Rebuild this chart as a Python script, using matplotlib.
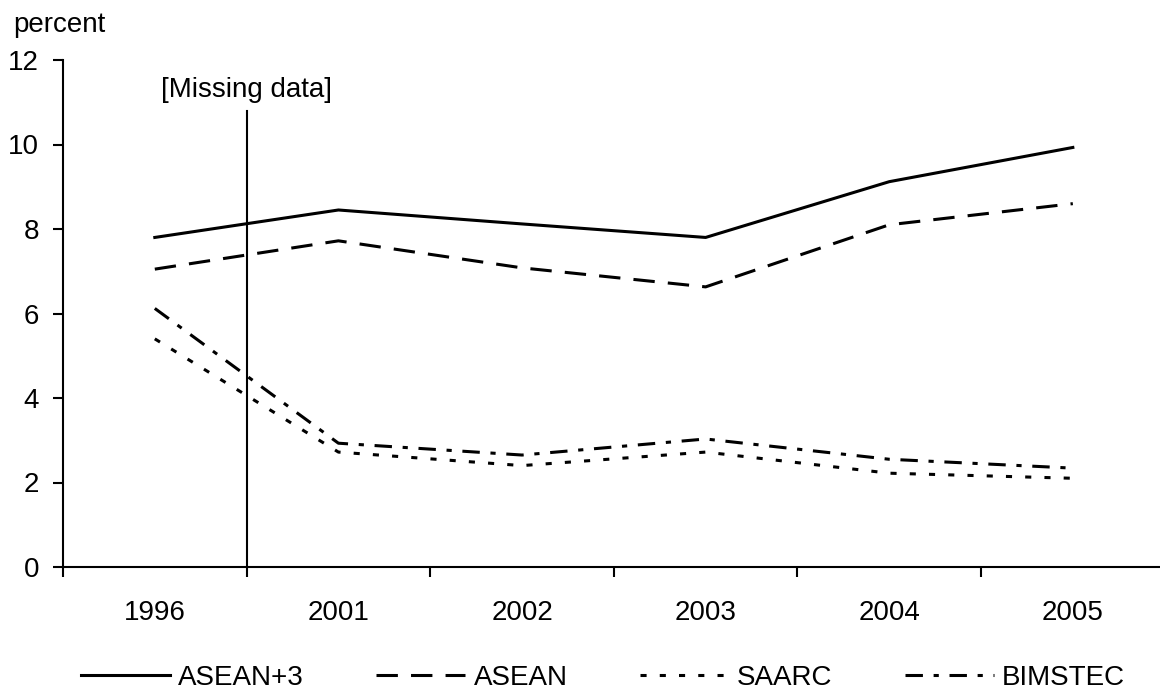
import matplotlib
matplotlib.use("Agg")
import matplotlib.pyplot as plt
from matplotlib.ticker import FixedLocator

years = ["1996", "2001", "2002", "2003", "2004", "2005"]
asean3 = [7.80, 8.45, 8.12, 7.80, 9.12, 9.93]
asean = [7.05, 7.72, 7.08, 6.63, 8.10, 8.60]
saarc = [5.40, 2.72, 2.40, 2.72, 2.22, 2.10]
bimstec = [6.12, 2.93, 2.65, 3.03, 2.55, 2.34]

plt.rcParams['font.family'] = ['Liberation Sans', 'DejaVu Sans']
fs = 20
fig = plt.figure(figsize=(11.6, 6.93), dpi=100)
ax = fig.add_axes([63/1160, 1-567/693, 1-63/1160 + 0.004, (567-60)/693])

x = list(range(len(years)))
lw = 2.2
ax.plot(x, asean3, color='black', lw=lw, linestyle='-', label='ASEAN+3')
ax.plot(x, asean, color='black', lw=lw, linestyle=(0, (7, 4.3)), label='ASEAN')
ax.plot(x, saarc, color='black', lw=lw, linestyle=(0, (2, 4.3)), label='SAARC')
ax.plot(x, bimstec, color='black', lw=lw, linestyle=(0, (5.7, 3.5, 1.7, 3.5)), label='BIMSTEC')

ax.plot([0.5, 0.5], [0, 10.8], color='black', lw=1.5)
ax.text(0.5, 11.3, '[Missing data]', ha='center', va='center', fontsize=fs)

ax.set_xlim(-0.5, 5.5)
ax.set_ylim(0, 12)
ax.set_yticks([0, 2, 4, 6, 8, 10, 12])
ax.set_xticks(x)
ax.set_xticklabels(years)
ax.xaxis.set_minor_locator(FixedLocator([-0.5, 0.5, 1.5, 2.5, 3.5, 4.5]))
ax.tick_params(axis='x', which='major', length=0, pad=24, labelsize=fs)
ax.tick_params(axis='x', which='minor', length=7.2, direction='out', width=1.5)
ax.tick_params(axis='y', length=7.2, width=1.5, direction='out', labelsize=fs, pad=10)
for s in ['top', 'right']:
    ax.spines[s].set_visible(False)
for s in ['left', 'bottom']:
    ax.spines[s].set_linewidth(1.5)

fig.text(13/1160, 1-25/693, 'percent', ha='left', va='center', fontsize=fs)

leg = fig.legend(loc='center', bbox_to_anchor=(603/1160, 1-678/693), ncol=4, frameon=False,
                 fontsize=fs, handlelength=3.2, handletextpad=0.3, columnspacing=2.6,
                 borderpad=0, borderaxespad=0)

fig.savefig('out.png', dpi=100)
